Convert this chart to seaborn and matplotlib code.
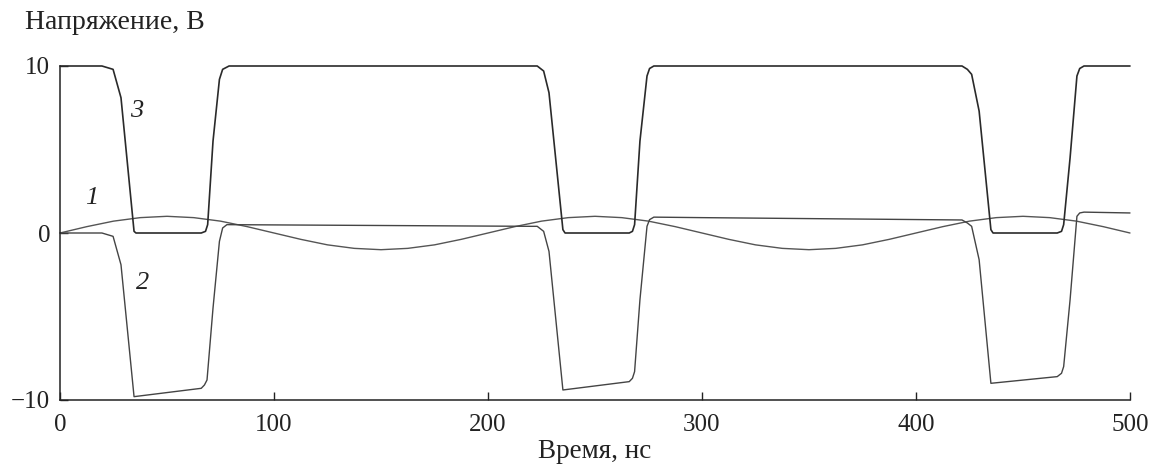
import matplotlib
matplotlib.use("Agg")
import matplotlib.pyplot as plt
import seaborn as sns
import pandas as pd

# ---- data ----
# curve 1: slow sinusoid
t1 = [0, 12.5, 25, 37.5, 50, 62.5, 75, 87.5, 100, 112.5, 125, 137.5, 150, 162.5, 175, 187.5,
      200, 212.5, 225, 237.5, 250, 262.5, 275, 287.5, 300, 312.5, 325, 337.5, 350, 362.5, 375,
      387.5, 400, 412.5, 425, 437.5, 450, 462.5, 475, 487.5, 500]
v1 = [0, 0.38, 0.71, 0.92, 1.0, 0.92, 0.71, 0.38, 0, -0.38, -0.71, -0.92, -1.0, -0.92, -0.71, -0.38,
      0, 0.38, 0.71, 0.92, 1.0, 0.92, 0.71, 0.38, 0, -0.38, -0.71, -0.92, -1.0, -0.92, -0.71,
      -0.38, 0, 0.38, 0.71, 0.92, 1.0, 0.92, 0.71, 0.38, 0]

# curve 2
t2 = [0, 19.6, 24.8, 28.5, 34.6, 66, 67.5, 68.7, 71.5, 74.5, 76, 78, 220,
      223, 226, 228.5, 235, 266, 267.5, 268.5, 271, 274.3, 275.5, 277.5, 300, 421.5,
      424, 426, 429.5, 435, 466, 468, 469, 472, 475.2, 476.5, 478.5, 500]
v2 = [0, 0, -0.2, -1.9, -9.8, -9.3, -9.1, -8.8, -4.5, -0.5, 0.3, 0.5, 0.4,
      0.4, 0.1, -1.1, -9.4, -8.9, -8.7, -8.3, -4.0, 0.4, 0.8, 0.95, 0.92, 0.78,
      0.6, 0.4, -1.6, -9.0, -8.6, -8.4, -8.0, -4.0, 1.0, 1.2, 1.25, 1.2]

# curve 3
t3 = [0, 19.6, 24.8, 28.5, 34.6, 35.5, 66, 68, 69, 71.5, 74.5, 76, 79,
      223, 226, 228.5, 235, 236, 266, 267.5, 268.5, 271, 274.3, 275.5, 277.5,
      421.5, 424, 426, 429.5, 435, 436, 466, 468, 469, 472, 475.2, 476.5, 478.5, 500]
v3 = [10, 10, 9.8, 8.1, 0.1, 0, 0, 0.1, 0.5, 5.5, 9.2, 9.8, 10,
      10, 9.7, 8.4, 0.2, 0, 0, 0.1, 0.5, 5.5, 9.4, 9.85, 10,
      10, 9.8, 9.5, 7.3, 0.2, 0, 0, 0.1, 0.5, 4.5, 9.4, 9.85, 10, 10]

x_ticks = [0, 100, 200, 300, 400, 500]
y_ticks = [-10, 0, 10]
y_ticklabels = ["\u221210", "0", "10"]
curve_labels = ["1", "2", "3"]
label_pos = [(15, 2.1), (38.5, -3.0), (36, 7.3)]

# ---- plotting ----
sns.set_style("ticks")
plt.rcParams["font.family"] = ["Liberation Serif", "DejaVu Serif"]

fig = plt.figure(figsize=(11.52, 4.68), dpi=100)
ax = fig.add_axes([60 / 1152, 1 - 400 / 468, 1070 / 1152, 334 / 468])

df1 = pd.DataFrame({"t": t1, "v": v1})
df2 = pd.DataFrame({"t": t2, "v": v2})
df3 = pd.DataFrame({"t": t3, "v": v3})

sns.lineplot(data=df1, x="t", y="v", ax=ax, color="#555555", linewidth=1.0,
             estimator=None, sort=False, clip_on=False)
sns.lineplot(data=df2, x="t", y="v", ax=ax, color="#444444", linewidth=1.0,
             estimator=None, sort=False, clip_on=False)
sns.lineplot(data=df3, x="t", y="v", ax=ax, color="#2a2a2a", linewidth=1.2,
             estimator=None, sort=False, clip_on=False)

for lab, (x, y) in zip(curve_labels, label_pos):
    ax.text(x, y, lab, fontsize=19, fontstyle="italic", color="#222222",
            ha="center", va="center")

ax.set_xlim(0, 500)
ax.set_ylim(-10, 10)
ax.set_xticks(x_ticks)
ax.set_yticks(y_ticks)
ax.set_yticklabels(y_ticklabels)
ax.tick_params(direction="in", length=6, width=1.0, labelsize=18, colors="#222222",
               pad=7)
ax.tick_params(axis="x", pad=10)
sns.despine(ax=ax)
for s in ("left", "bottom"):
    ax.spines[s].set_linewidth(1.1)
    ax.spines[s].set_color("#222222")

ax.set_xlabel("Время, нс", fontsize=19.5, color="#222222", labelpad=2)
ax.set_ylabel("")
fig.text(25 / 1152, 1 - 29 / 468, "Напряжение, В", fontsize=20, color="#222222",
         ha="left", va="baseline")

fig.savefig("out.png", dpi=100, facecolor="white")
